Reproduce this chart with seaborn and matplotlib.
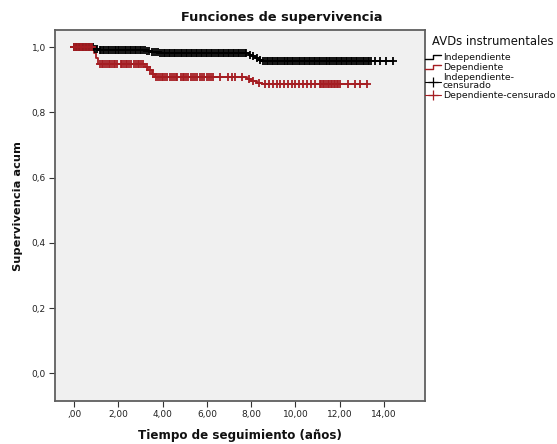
import numpy as np
import matplotlib
matplotlib.use("Agg")
import matplotlib.pyplot as plt
from matplotlib.lines import Line2D
from matplotlib.legend_handler import HandlerBase
import seaborn as sns

# Kaplan-Meier estimates by instrumental ADL status
indep_event_t = [0.92, 1.12, 3.25, 3.45, 3.65, 3.85, 7.88, 8.03, 8.18, 8.33, 8.48]
indep_surv = [0.996, 0.993, 0.990, 0.987, 0.984, 0.982, 0.977, 0.972, 0.967, 0.962, 0.957]
indep_end = 14.40

dep_event_t = [0.92, 1.00, 1.10, 3.20, 3.35, 3.50, 3.65, 7.82, 7.98, 8.25, 8.50]
dep_surv = [0.983, 0.966, 0.949, 0.940, 0.930, 0.918, 0.908, 0.902, 0.896, 0.891, 0.887]
dep_end = 13.23

# Censored follow-up times
indep_censor_t = [
    0.02, 0.08, 0.15, 0.21, 0.29, 0.35, 0.42, 0.50, 0.57, 0.63, 0.71, 0.78, 0.86,
    0.95, 1.03, 1.15, 1.22, 1.30, 1.37, 1.45, 1.52, 1.60, 1.67, 1.75, 1.83, 1.90,
    1.98, 2.05, 2.13, 2.20, 2.28, 2.36, 2.43, 2.51, 2.58, 2.66, 2.74, 2.81, 2.89,
    2.96, 3.04, 3.12, 3.19, 3.30, 3.40, 3.52, 3.60, 3.70, 3.80, 3.90, 3.97, 4.05,
    4.12, 4.20, 4.27, 4.35, 4.43, 4.50, 4.58, 4.66, 4.73, 4.81, 4.88, 4.96, 5.04,
    5.11, 5.19, 5.26, 5.34, 5.42, 5.49, 5.57, 5.64, 5.72, 5.80, 5.87, 5.95, 6.02,
    6.10, 6.18, 6.25, 6.33, 6.40, 6.48, 6.56, 6.63, 6.71, 6.78, 6.86, 6.94, 7.01,
    7.09, 7.16, 7.24, 7.32, 7.39, 7.47, 7.54, 7.62, 7.70, 7.78, 7.95, 8.10, 8.26,
    8.40, 8.55, 8.62, 8.70, 8.77, 8.85, 8.92, 9.00, 9.08, 9.15, 9.23, 9.30, 9.38,
    9.46, 9.53, 9.61, 9.68, 9.76, 9.84, 9.91, 9.99, 10.06, 10.14, 10.22, 10.29,
    10.37, 10.44, 10.52, 10.60, 10.67, 10.75, 10.82, 10.90, 10.98, 11.05, 11.13,
    11.20, 11.28, 11.36, 11.43, 11.51, 11.58, 11.66, 11.74, 11.81, 11.89, 11.96,
    12.04, 12.12, 12.19, 12.27, 12.34, 12.42, 12.50, 12.57, 12.65, 12.72, 12.80,
    12.88, 12.95, 13.03, 13.10, 13.18, 13.26, 13.33, 13.41, 13.59, 13.81, 14.09,
    14.40,
]
dep_censor_t = [
    0.00, 0.06, 0.12, 0.19, 0.25, 0.31, 0.38, 0.44, 0.50, 0.57, 0.63, 0.70, 0.76,
    0.83, 1.18, 1.26, 1.33, 1.41, 1.49, 1.56, 1.64, 1.72, 1.79, 1.87, 1.95, 2.10,
    2.18, 2.25, 2.33, 2.41, 2.48, 2.56, 2.71, 2.79, 2.87, 2.94, 3.02, 3.10, 3.28,
    3.42, 3.58, 3.72, 3.80, 3.88, 3.96, 4.04, 4.12, 4.20, 4.35, 4.43, 4.51, 4.59,
    4.67, 4.82, 4.90, 4.98, 5.06, 5.14, 5.30, 5.38, 5.46, 5.54, 5.70, 5.78, 5.86,
    6.02, 6.10, 6.18, 6.26, 6.59, 6.95, 7.13, 7.27, 7.58, 7.90, 8.08, 8.35, 8.62,
    8.80, 8.98, 9.15, 9.30, 9.48, 9.66, 9.83, 10.00, 10.18, 10.35, 10.52, 10.70,
    10.88, 11.10, 11.17, 11.24, 11.31, 11.38, 11.45, 11.52, 11.59, 11.66, 11.73,
    11.80, 11.87, 11.94, 12.02, 12.37, 12.69, 12.91, 13.23,
]

x_ticks = [0, 2, 4, 6, 8, 10, 12, 14]
x_tick_labels = [",00", "2,00", "4,00", "6,00", "8,00", "10,00", "12,00", "14,00"]
y_ticks = [0.0, 0.2, 0.4, 0.6, 0.8, 1.0]
y_tick_labels = ["0,0", "0,2", "0,4", "0,6", "0,8", "1,0"]

BLACK = "#000000"
RED = "#a51d22"


def step_curve(event_t, surv, end):
    xs = np.array([0.0] + list(event_t) + [end])
    ys = np.array([1.0] + list(surv) + [surv[-1]])
    return xs, ys


def surv_at(t, event_t, surv):
    levels = np.array([1.0] + list(surv))
    idx = np.searchsorted(np.array(event_t), np.asarray(t), side="right")
    return levels[idx]


sns.set_theme(style="white")
plt.rcParams["font.family"] = ["DejaVu Sans"]

fig = plt.figure(figsize=(5.57, 4.44), dpi=100)
fig.patch.set_facecolor("white")
ax = fig.add_axes([55 / 557, 1 - 401 / 444, 370 / 557, 371 / 444])
ax.set_facecolor("#f0f0f0")

groups = [
    ("Independiente", indep_event_t, indep_surv, indep_end, indep_censor_t, BLACK),
    ("Dependiente", dep_event_t, dep_surv, dep_end, dep_censor_t, RED),
]
for name, ev, sv, end, cens, col in groups:
    xs, ys = step_curve(ev, sv, end)
    sns.lineplot(x=xs, y=ys, ax=ax, color=col, linewidth=1.3,
                 drawstyle="steps-post", estimator=None, sort=False)
    cy = surv_at(cens, ev, sv)
    sns.scatterplot(x=cens, y=cy, ax=ax, marker="+", color=col, s=26,
                    linewidth=1.3, zorder=3)

ax.set_xlim(-0.86, 15.85)
ax.set_ylim(-0.085, 1.053)
ax.set_xticks(x_ticks)
ax.set_xticklabels(x_tick_labels)
ax.set_yticks(y_ticks)
ax.set_yticklabels(y_tick_labels)
ax.tick_params(axis="both", which="both", direction="out", length=4.5, width=0.8,
               color="#333333", labelsize=6.5, labelcolor="#222222", pad=2,
               bottom=True, left=True, top=False, right=False)

for sp in ax.spines.values():
    sp.set_color("#5f5f5f")
    sp.set_linewidth(1.3)
    sp.set_visible(True)

ax.set_xlabel("Tiempo de seguimiento (años)", fontsize=8.6, fontweight="bold",
              color="#111111")
ax.xaxis.set_label_coords(0.5, -0.094)
ax.xaxis.label.set_va("center")
ax.set_ylabel("Supervivencia acum", fontsize=8.2, fontweight="bold", color="#111111")
ax.yaxis.set_label_coords(-0.1, 0.526)
ax.yaxis.label.set_va("center")

fig.text(282 / 557, 1 - 18 / 444, "Funciones de supervivencia", fontsize=9.3,
         fontweight="bold", ha="center", va="center", color="#111111")


class HandlerStep(HandlerBase):
    def create_artists(self, legend, orig_handle, xdescent, ydescent, width,
                       height, fontsize, trans):
        x0 = -xdescent
        xm = x0 + 0.5 * width
        lo = -ydescent + 0.2 * height
        hi = -ydescent + 0.75 * height
        line = Line2D([x0, xm, xm, x0 + width], [lo, lo, hi, hi],
                      color=orig_handle.get_color(), linewidth=1.0)
        line.set_transform(trans)
        return [line]


h_indep = Line2D([], [], color=BLACK)
h_dep = Line2D([], [], color=RED)
h_indep_c = Line2D([], [], color=BLACK, marker="+", markersize=7, linewidth=0.8,
                   markeredgewidth=0.9)
h_dep_c = Line2D([], [], color=RED, marker="+", markersize=7, linewidth=0.8,
                 markeredgewidth=0.9)

# Legend heading and entries
fig.text(432 / 557, 1 - 41 / 444, "AVDs instrumentales", fontsize=8.4,
         ha="left", va="center", color="#111111")
leg = fig.legend(
    [h_indep, h_dep, h_indep_c, h_dep_c],
    ["Independiente", "Dependiente", "Independiente-\ncensurado",
     "Dependiente-censurado"],
    handler_map={h_indep: HandlerStep(), h_dep: HandlerStep()},
    fontsize=6.75,
    loc="upper left", bbox_to_anchor=(425 / 557, 1 - 53 / 444),
    frameon=False, alignment="left", handlelength=1.7, handletextpad=0.2,
    labelspacing=0.1, borderpad=0.0, borderaxespad=0.0, numpoints=1,
)
for t in leg.get_texts():
    t.set_color("#111111")
    t.set_linespacing(0.9)

fig.savefig("out.png", dpi=100)
